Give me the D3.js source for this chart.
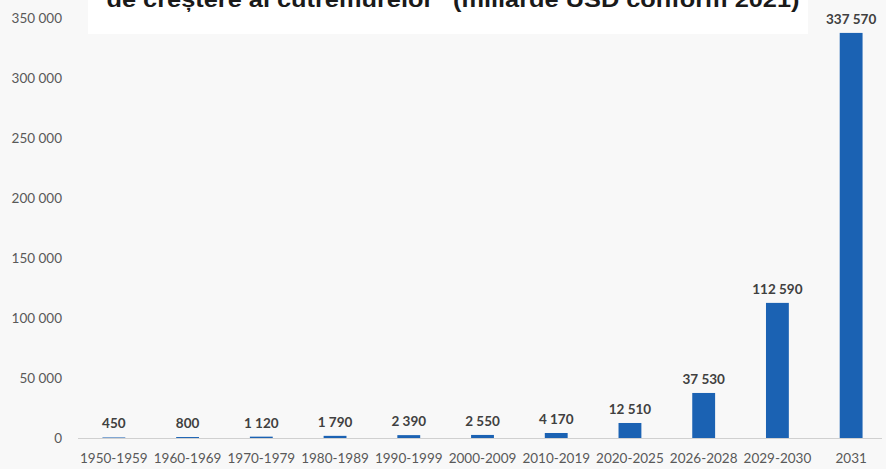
<!DOCTYPE html>
<html><head><meta charset="utf-8">
<script src="https://cdn.jsdelivr.net/npm/d3@7"></script>
<style>body{margin:0;background:#f8f8f8;}svg{display:block;}</style>
</head><body><svg id="c" width="886" height="469"></svg>
<script>
const categories = ["1950-1959","1960-1969","1970-1979","1980-1989","1990-1999","2000-2009","2010-2019","2020-2025","2026-2028","2029-2030","2031"];
const values = [450,800,1120,1790,2390,2550,4170,12510,37530,112590,337570];
const yTicks = [0,50000,100000,150000,200000,250000,300000,350000];
const title = "de creștere al cutremurelor” (miliarde USD conform 2021)";

const svg = d3.select("#c");
const W = 886, H = 469;
svg.append("rect").attr("width",W).attr("height",H).attr("fill","#f8f8f8");
svg.append("rect").attr("x",88).attr("y",0).attr("width",720).attr("height",34).attr("fill","#ffffff");

const x = d3.scaleBand().domain(categories).range([77,888]).paddingInner(0.69).paddingOuter(0.345);
const y = d3.scaleLinear().domain([0,350000]).range([438,18]);
const fmt = v => d3.format(",")(v).replace(/,/g,"\u2009");

const lab = "Lato, 'Open Sans', sans-serif";

// y tick labels
svg.append("g").selectAll("text").data(yTicks).join("text")
  .attr("x",62).attr("y",d=>y(d)+4.5).attr("text-anchor","end")
  .attr("font-family",lab).attr("font-size",13.5).attr("fill","#595959")
  .text(d=>d===0?"0":d3.format(",")(d).replace(/,/g," "));

// baseline
svg.append("line").attr("x1",78).attr("x2",882).attr("y1",y(0)+0.5).attr("y2",y(0)+0.5)
  .attr("stroke","#d0d0d0").attr("stroke-width",1);

// bars
svg.append("g").selectAll("rect").data(values).join("rect")
  .attr("x",(d,i)=>x(categories[i])).attr("width",x.bandwidth())
  .attr("y",d=>y(d)).attr("height",d=>y(0)-y(d))
  .attr("fill","#1b62b3");

// value labels
svg.append("g").selectAll("text").data(values).join("text")
  .attr("x",(d,i)=>x(categories[i])+x.bandwidth()/2)
  .attr("y",d=>Math.min(y(d),y(0)-1)-9).attr("text-anchor","middle")
  .attr("font-family",lab).attr("font-weight","bold").attr("font-size",13.5).attr("fill","#404040")
  .text(d=>d3.format(",")(d).replace(/,/g," "));

// x labels
svg.append("g").selectAll("text").data(categories).join("text")
  .attr("x",d=>x(d)+x.bandwidth()/2).attr("y",463).attr("text-anchor","middle")
  .attr("font-family",lab).attr("font-size",13.5).attr("fill","#595959")
  .text(d=>d);

// title (cut off at top)
const t = svg.append("text").attr("x",453).attr("y",7).attr("text-anchor","middle")
  .attr("font-family","'Liberation Sans', Arial, sans-serif").attr("font-weight","bold")
  .attr("font-size",22).attr("fill","#1a1a1a").text(title);
const len = t.node().getComputedTextLength();
t.attr("textLength",693).attr("lengthAdjust","spacingAndGlyphs");
</script></body></html>
